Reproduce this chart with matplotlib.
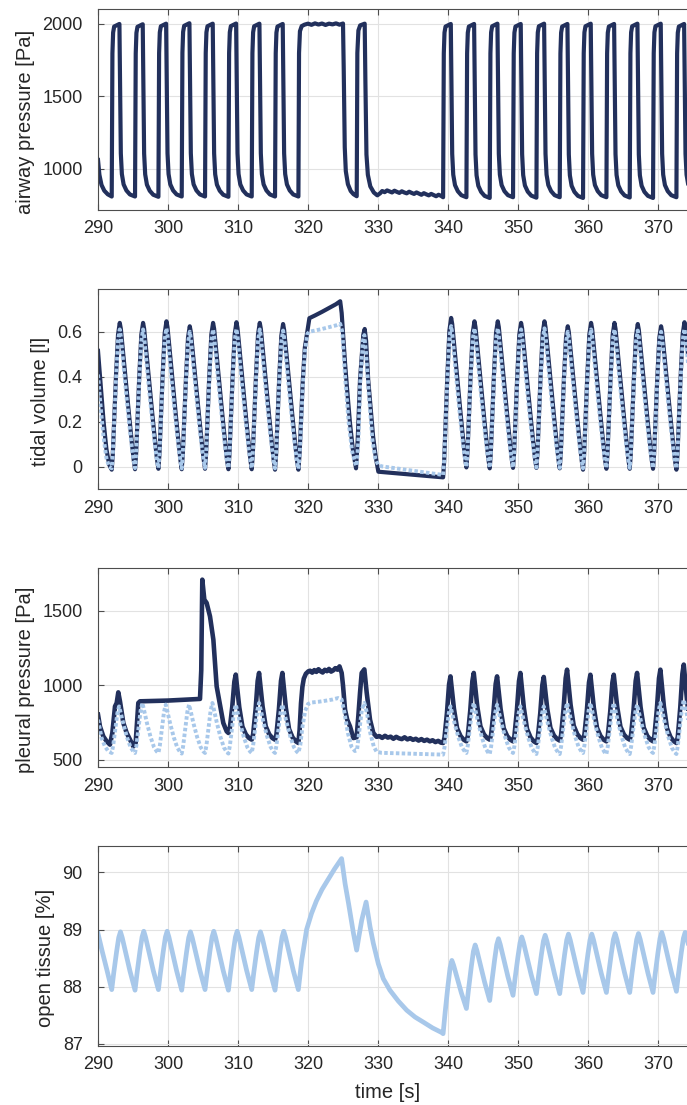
import matplotlib.pyplot as plt
import numpy as np

plt.rcParams['font.family'] = ['Liberation Sans', 'DejaVu Sans']

navy = '#22305c'
pale = '#a8c8ea'
ink = '#262626'
frame = '#4d4d4d'

# breath onsets (start of inspiration) [s]
onsets_a = [291.96, 295.29, 298.63, 301.96, 305.29, 308.63, 311.96, 315.29]
onsets_c = [339.30, 342.63, 345.96, 349.29, 352.63, 355.96, 359.29, 362.63,
            365.96, 369.29, 372.63]

# ---------------- airway pressure [Pa]
paw_start_t = [290.0, 290.2, 290.5, 290.9, 291.4, 291.96]
paw_start_v = [1062, 960, 890, 850, 825, 810]
paw_low_a = [810, 810, 808, 810, 810, 808, 810, 810, 810]
paw_high_a = [2000, 1998, 2002, 2005, 2002, 2003, 2002, 2000]
paw_b_t = [318.63, 318.72, 318.85, 319.1, 319.5, 320.0, 320.5, 321.0, 321.5,
           322.0, 322.5, 323.0, 323.5, 324.0, 324.5, 325.0, 325.1, 325.25,
           325.4, 325.7, 326.1, 326.5, 326.96, 327.05, 327.2, 327.45, 328.1,
           328.2, 328.35, 328.55, 328.9, 329.4, 329.9, 330.3]
paw_b_v = [810, 1800, 1950, 1985, 1995, 2002, 1994, 2004, 1996, 2003, 1993,
           2002, 1997, 2004, 1995, 2003, 1700, 1150, 985, 895, 848, 826, 812,
           1800, 1955, 1990, 2002, 1600, 1100, 960, 880, 838, 818, 832]
paw_hold_v = [848, 840, 852, 845, 838, 850, 842, 835, 846, 838, 832, 843, 835,
              828, 838, 830, 822, 833, 825, 818, 828, 820, 812, 822, 815]
paw_low_c = [805, 805, 800, 805, 802, 805, 800, 805, 803, 800, 805, 805]
paw_high_c = [2000, 2000, 2002, 2000, 2002, 2000, 2002, 2000, 2002, 2002, 2000]
paw_rise_dt = [0, 0.1, 0.2, 0.35, 1.1]
paw_rise_fr = [0, 0.83, 0.95, 0.985, 1.0]
paw_fall_dt = [1.1, 1.2, 1.3, 1.45, 1.7, 2.1, 2.6, 3.33]
paw_fall_fr = [1, 0.65, 0.25, 0.13, 0.07, 0.035, 0.012, 0]

# ---------------- tidal volume [l]
vol_start_t = [290.0, 290.4, 290.8, 291.2, 291.6, 291.96]
vol_start_v = [0.515, 0.36, 0.2, 0.08, 0.01, -0.012]
volm_start_v = [0.41, 0.26, 0.13, 0.04, 0.0, -0.006]
vol_low_a = [-0.012, -0.01, -0.008, -0.01, -0.008, -0.01, -0.01, -0.012, -0.012]
vol_high_a = [0.639, 0.639, 0.646, 0.624, 0.639, 0.642, 0.639, 0.634]
volm_low_a = [-0.006, -0.005, -0.004, -0.006, -0.004, -0.005, -0.005, -0.006, -0.008]
volm_high_a = [0.61, 0.61, 0.615, 0.6, 0.61, 0.612, 0.61, 0.605]
vol_b_t = [318.63, 318.8, 319.0, 319.25, 319.55, 319.9, 320.2, 321.0, 322.0,
           323.0, 324.0, 324.6, 324.81, 325.29, 325.6, 326.0, 326.4, 326.86,
           327.1, 327.43, 327.9, 328.1, 328.3, 328.6, 329.3, 329.7, 330.05,
           339.2]
vol_b_v = [-0.012, 0.06, 0.2, 0.38, 0.53, 0.6, 0.66, 0.672, 0.688, 0.705,
           0.722, 0.735, 0.683, 0.461, 0.34, 0.194, 0.08, -0.006, 0.12, 0.387,
           0.587, 0.612, 0.56, 0.387, 0.135, 0.04, -0.021, -0.046]
volm_b_t = [318.63, 318.8, 319.0, 319.25, 319.55, 319.9, 320.2, 321.0, 322.0,
            323.0, 324.0, 324.6, 324.9, 325.3, 325.8, 326.3, 326.7, 326.95,
            327.2, 327.45, 327.85, 328.05, 328.3, 328.7, 329.2, 329.6, 330.0,
            330.5, 339.2]
volm_b_v = [-0.008, 0.05, 0.18, 0.36, 0.51, 0.59, 0.6, 0.605, 0.612, 0.62,
            0.628, 0.635, 0.6, 0.4, 0.2, 0.07, 0.02, 0.005, 0.12, 0.37, 0.56,
            0.585, 0.5, 0.32, 0.12, 0.04, 0.01, 0.003, -0.035]
vol_low_c = [-0.046, -0.002, -0.006, -0.004, -0.004, -0.006, -0.012, -0.008,
             -0.008, -0.008, -0.012, -0.01]
vol_high_c = [0.661, 0.646, 0.646, 0.639, 0.646, 0.624, 0.639, 0.639, 0.634,
              0.624, 0.642]
volm_low_c = [-0.036, 0.0, -0.003, -0.002, -0.002, -0.004, -0.006, -0.004,
              -0.004, -0.004, -0.006, -0.005]
volm_high_c = [0.625, 0.615, 0.615, 0.61, 0.615, 0.6, 0.61, 0.61, 0.605, 0.6,
               0.612]
vol_rise_dt = [0, 0.15, 0.35, 0.6, 0.9, 1.15]
vol_rise_fr = [0, 0.1, 0.33, 0.63, 0.92, 1.0]
vol_fall_dt = [1.15, 1.3, 1.7, 2.1, 2.5, 2.9, 3.15, 3.33]
vol_fall_fr = [1.0, 0.96, 0.76, 0.56, 0.36, 0.17, 0.06, 0]
volm_fall_fr = [1.0, 0.95, 0.73, 0.52, 0.32, 0.14, 0.05, 0]

# ---------------- pleural pressure [Pa]
ppl_start_t = [290.0, 290.28, 290.76, 291.24, 291.71, 292.05, 292.43, 292.67,
               292.9, 293.14, 293.62, 294.1, 294.57, 295.05, 295.38, 295.76,
               296.0, 300.0, 304.57, 304.75, 304.9, 305.19, 305.52, 306.0,
               306.48, 306.95, 307.43, 307.9, 308.38]
ppl_start_v = [804, 725, 658, 625, 603, 681, 859, 882, 953, 893, 748, 681, 636,
               591, 614, 882, 893, 898, 909, 1100, 1708, 1574, 1552, 1462,
               1306, 993, 870, 748, 692]
ppl_onsets_a = onsets_a[5:]
ppl_low_a = [681, 636, 636, 614]
ppl_high_a = [1072, 1083, 1083]
ppl_b_t = [318.62, 318.8, 319.0, 319.2, 319.4, 319.7, 320.05]
ppl_b_v = [614, 700, 880, 990, 1045, 1078, 1094]
ppl_hold1_v = [1098, 1085, 1102, 1090, 1108, 1094, 1086, 1104, 1095, 1110,
               1092, 1100, 1115, 1105, 1127]
ppl_b2_t = [324.81, 325.0, 325.29, 325.6, 326.0, 326.48, 326.95, 327.2,
            327.43, 327.67, 328.05, 328.38, 328.86, 329.33, 329.8]
ppl_b2_v = [1083, 1000, 837, 770, 725, 647, 652, 800, 949, 1083, 1107, 953,
            770, 681, 655]
ppl_hold2_v = [660, 648, 662, 650, 656, 642, 655, 645, 640, 652, 638, 646, 635,
               642, 630, 640, 628, 636, 625, 632, 620, 628, 616]
ppl_low_c = [614, 625, 636, 625, 614, 630, 636, 625, 636, 625, 614, 625]
ppl_high_c = [1060, 1083, 1060, 1083, 1056, 1105, 1071, 1071, 1083, 1105, 1139]
ppl_rise_dt = [0, 0.2, 0.55, 0.85, 1.05]
ppl_rise_fr = [0, 0.08, 0.45, 0.88, 1.0]
ppl_fall_dt = [1.05, 1.3, 1.55, 2.0, 2.5, 2.95, 3.33]
ppl_fall_fr = [1.0, 0.75, 0.5, 0.2, 0.08, 0.025, 0]

pplm_start_t = [290.0, 290.52, 291.0, 291.48, 291.96]
pplm_start_v = [770, 647, 590, 558, 547]
pplm_low_a = [547, 547, 547, 543, 547, 543, 547, 547, 547]
pplm_high_a = [859, 882, 871, 871, 882, 871, 882, 871]
pplm_b_t = [318.62, 318.9, 319.2, 319.6, 320.0, 320.5, 321.5, 322.5, 323.5,
            324.3, 324.8, 325.2, 325.7, 326.2, 326.7, 327.0, 327.35, 327.7,
            328.05, 328.4, 328.9, 329.4, 329.8, 330.5, 335.0, 339.0]
pplm_b_v = [547, 600, 720, 830, 875, 885, 890, 897, 905, 915, 905, 820, 680,
            590, 560, 565, 700, 840, 882, 820, 680, 590, 555, 548, 542, 537]
pplm_low_c = [536, 547, 540, 547, 540, 540, 547, 540, 540, 547, 540, 545]
pplm_high_c = [859, 882, 870, 859, 859, 882, 882, 882, 870, 882, 904]
pplm_rise_dt = [0, 0.2, 0.5, 0.8, 1.05]
pplm_rise_fr = [0, 0.15, 0.5, 0.85, 1.0]
pplm_fall_dt = [1.05, 1.3, 1.7, 2.2, 2.7, 3.1, 3.33]
pplm_fall_fr = [1.0, 0.85, 0.6, 0.33, 0.12, 0.03, 0]

# ---------------- open tissue [%]
ot_start_t = [290.0, 290.6, 291.3, 291.96]
ot_start_v = [88.93, 88.62, 88.28, 87.95]
ot_low_a = [87.95, 87.94, 87.95, 87.94, 87.95, 87.94, 87.95, 87.94, 87.95]
ot_high_a = [88.96, 88.97, 88.97, 88.96, 88.97, 88.97, 88.96, 88.97]
ot_b_t = [318.62, 319.1, 319.8, 320.5, 321.2, 322.0, 322.9, 323.8, 324.8,
          325.3, 325.8, 326.5, 326.95, 327.3, 327.67, 328.3, 328.86, 329.33,
          330.05, 330.76, 331.7, 332.9, 334.1, 335.3, 336.5, 337.8, 339.1]
ot_b_v = [87.95, 88.46, 89.0, 89.28, 89.5, 89.7, 89.88, 90.06, 90.24, 89.8,
          89.45, 88.93, 88.64, 88.9, 89.16, 89.48, 89.05, 88.76, 88.4, 88.14,
          87.94, 87.75, 87.59, 87.47, 87.38, 87.28, 87.2]
ot_low_c = [87.18, 87.62, 87.76, 87.85, 87.88, 87.88, 87.9, 87.9, 87.9, 87.9,
            87.92, 87.93]
ot_high_c = [88.46, 88.73, 88.84, 88.87, 88.9, 88.92, 88.92, 88.93, 88.93,
             88.95, 88.95]
ot_rise_dt = [0, 0.3, 0.7, 1.0, 1.25]
ot_rise_fr = [0, 0.3, 0.66, 0.9, 1.0]
ot_fall_dt = [1.25, 1.5, 2.0, 2.6, 3.33]
ot_fall_fr = [1.0, 0.9, 0.64, 0.33, 0]


def breaths(onsets, lows, highs, rise_dt, rise_fr, fall_dt, fall_fr):
    # chain breath cycles: rise from this breath's low, fall to the next low
    t, v = [], []
    for i, t0 in enumerate(onsets):
        lo, hi, lo2 = lows[i], highs[i], lows[i + 1]
        for dt, f in zip(rise_dt, rise_fr):
            t.append(t0 + dt)
            v.append(lo + f * (hi - lo))
        for dt, f in zip(fall_dt[1:], fall_fr[1:]):
            t.append(t0 + dt)
            v.append(lo2 + f * (hi - lo2))
    return t, v


def join(*parts):
    t, v = [], []
    for pt, pv in parts:
        t += list(pt)
        v += list(pv)
    return t, v


paw = join((paw_start_t, paw_start_v),
           breaths(onsets_a, paw_low_a, paw_high_a, paw_rise_dt, paw_rise_fr, paw_fall_dt, paw_fall_fr),
           (paw_b_t, paw_b_v),
           (np.linspace(330.6, 339.0, len(paw_hold_v)), paw_hold_v),
           breaths(onsets_c, paw_low_c, paw_high_c, paw_rise_dt, paw_rise_fr, paw_fall_dt, paw_fall_fr))

vol = join((vol_start_t, vol_start_v),
           breaths(onsets_a, vol_low_a, vol_high_a, vol_rise_dt, vol_rise_fr, vol_fall_dt, vol_fall_fr),
           (vol_b_t, vol_b_v),
           breaths(onsets_c, vol_low_c, vol_high_c, vol_rise_dt, vol_rise_fr, vol_fall_dt, vol_fall_fr))
volm = join((vol_start_t, volm_start_v),
            breaths(onsets_a, volm_low_a, volm_high_a, vol_rise_dt, vol_rise_fr, vol_fall_dt, volm_fall_fr),
            (volm_b_t, volm_b_v),
            breaths(onsets_c, volm_low_c, volm_high_c, vol_rise_dt, vol_rise_fr, vol_fall_dt, volm_fall_fr))

ppl = join((ppl_start_t, ppl_start_v),
           breaths(ppl_onsets_a, ppl_low_a, ppl_high_a, ppl_rise_dt, ppl_rise_fr, ppl_fall_dt, ppl_fall_fr),
           (ppl_b_t, ppl_b_v),
           (np.linspace(320.3, 324.5, len(ppl_hold1_v)), ppl_hold1_v),
           (ppl_b2_t, ppl_b2_v),
           (np.linspace(330.2, 339.0, len(ppl_hold2_v)), ppl_hold2_v),
           breaths(onsets_c, ppl_low_c, ppl_high_c, ppl_rise_dt, ppl_rise_fr, ppl_fall_dt, ppl_fall_fr))
pplm = join((pplm_start_t, pplm_start_v),
            breaths(onsets_a, pplm_low_a, pplm_high_a, pplm_rise_dt, pplm_rise_fr, pplm_fall_dt, pplm_fall_fr),
            (pplm_b_t, pplm_b_v),
            breaths(onsets_c, pplm_low_c, pplm_high_c, pplm_rise_dt, pplm_rise_fr, pplm_fall_dt, pplm_fall_fr))

ot = join((ot_start_t, ot_start_v),
          breaths(onsets_a, ot_low_a, ot_high_a, ot_rise_dt, ot_rise_fr, ot_fall_dt, ot_fall_fr),
          (ot_b_t, ot_b_v),
          breaths(onsets_c, ot_low_c, ot_high_c, ot_rise_dt, ot_rise_fr, ot_fall_dt, ot_fall_fr))

fig = plt.figure(figsize=(6.87, 11.05), dpi=100)
W, H = 687.0, 1105.0
left = 98 / W
width = 630 / W   # 290..380 s, right part runs past the figure edge


def make_axes(top_px, bot_px):
    return fig.add_axes([left, 1 - bot_px / H, width, (bot_px - top_px) / H])


def style(ax, ylim, yticks, ylabels, label):
    ax.set_xlim(290, 380)
    ax.set_ylim(*ylim)
    ax.set_xticks(np.arange(290, 371, 10))
    ax.set_yticks(yticks, ylabels)
    ax.grid(True, color='#e2e2e2', lw=0.8)
    ax.set_axisbelow(True)
    ax.tick_params(direction='in', top=True, length=4, width=0.8, color=frame,
                   labelcolor=ink, labelsize=13)
    ax.tick_params(axis='x', pad=7.5)
    ax.tick_params(axis='y', pad=11)
    for s in ax.spines.values():
        s.set_color(frame)
        s.set_linewidth(0.8)
    ax.set_ylabel(label, fontsize=14.5, color=ink, labelpad=5.5)
    ax.yaxis.label.set_y(0.44)


ax1 = make_axes(9.3, 210)
ax1.plot(*paw, color=navy, lw=3, solid_joinstyle='round')
style(ax1, (717, 2101), [1000, 1500, 2000], ['1000', '1500', '2000'],
      'airway pressure [Pa]')

ax2 = make_axes(289.3, 489.3)
ax2.plot(*vol, color=navy, lw=3, solid_joinstyle='round')
ax2.plot(*volm, color=pale, lw=2.8, linestyle=(0, (0.9, 0.6)))
style(ax2, (-0.099, 0.788), [0, 0.2, 0.4, 0.6], ['0', '0.2', '0.4', '0.6'],
      'tidal volume [l]')

ax3 = make_axes(568.3, 767.3)
ax3.plot(*ppl, color=navy, lw=3.3, solid_joinstyle='round')
ax3.plot(*pplm, color=pale, lw=2.8, linestyle=(0, (0.9, 0.6)))
style(ax3, (451, 1784), [500, 1000, 1500], ['500', '1000', '1500'],
      'pleural pressure [Pa]')

ax4 = make_axes(845.7, 1045.7)
ax4.plot(*ot, color=pale, lw=3.4, solid_joinstyle='round')
style(ax4, (86.97, 90.465), [87, 88, 89, 90], ['87', '88', '89', '90'],
      'open tissue [%]')
ax4.set_xlabel('time [s]', fontsize=14.5, color=ink)
ax4.xaxis.set_label_coords(0.46, -0.185)

fig.savefig('out.png', dpi=100)
